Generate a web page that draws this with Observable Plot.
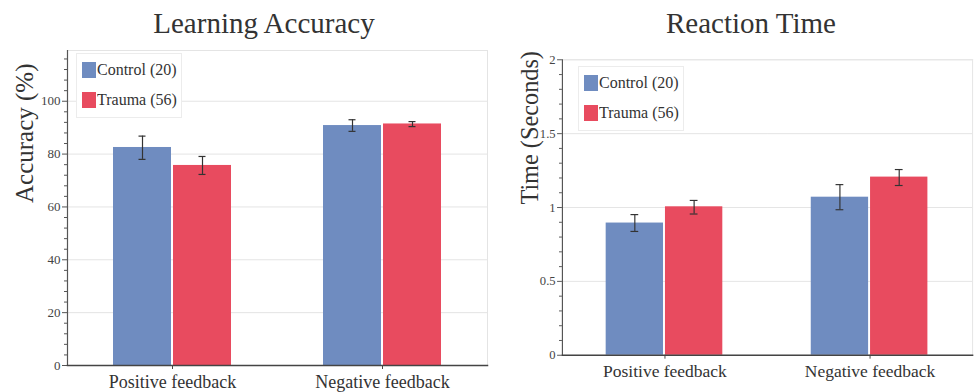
<!DOCTYPE html>
<html>
<head>
<meta charset="utf-8">
<script src="https://cdn.jsdelivr.net/npm/d3@7"></script>
<script src="https://cdn.jsdelivr.net/npm/@observablehq/plot@0.6"></script>
<style>
  html, body { margin: 0; padding: 0; background: #fff; }
  #root { position: relative; width: 976px; height: 392px; overflow: hidden; font-family: "Liberation Serif", serif; }
  #root svg, #root svg text { font-family: "Liberation Serif", serif !important; }
  .title { position: absolute; text-align: center; font-size: 29px; line-height: 29px; color: #333; white-space: nowrap; }
  .panel { position: absolute; top: 0; }
  .lgbox { position: absolute; border: 1px solid #ececec; background: #fff; padding: 1px 4px 2px 5px; }
  .lgbox, .lgbox * { font-family: "Liberation Serif", serif !important; font-size: 16px !important; color: #333 !important; }
  .lgbox .lg-swatch { height: 30px !important; display: flex !important; align-items: center !important; padding: 0 !important; margin: 0 !important; }
  .lgbox .lg-swatch svg { margin-right: 1px !important; }
</style>
</head>
<body>
<div id="root"></div>
<script>
// ---- data ----
const categories = ["Positive feedback", "Negative feedback"];
const groups = ["Control (20)", "Trauma (56)"];
const groupColors = ["#6f8cc0", "#e84b5f"];

// Learning accuracy (%)
const accControl   = [82.5, 90.8];
const accControlLo = [78.0, 88.6];
const accControlHi = [86.8, 93.0];
const accTrauma    = [75.7, 91.4];
const accTraumaLo  = [72.3, 90.4];
const accTraumaHi  = [79.1, 92.3];
const accTicks = [0, 20, 40, 60, 80, 100];
const accMinorTicks = [4, 8, 12, 16, 24, 28, 32, 36, 44, 48, 52, 56, 64, 68, 72, 76, 84, 88, 92, 96, 104, 108, 112, 116];

// Reaction time (seconds)
const rtControl   = [0.895, 1.07];
const rtControlLo = [0.838, 0.985];
const rtControlHi = [0.952, 1.155];
const rtTrauma    = [1.005, 1.206];
const rtTraumaLo  = [0.956, 1.149];
const rtTraumaHi  = [1.048, 1.257];
const rtTicks = [0, 0.5, 1, 1.5, 2];
const rtTickLabels = ["0", "0.5", "1", "1.5", "2"];
const rtMinorTicks = [0.1, 0.2, 0.3, 0.4, 0.6, 0.7, 0.8, 0.9, 1.1, 1.2, 1.3, 1.4, 1.6, 1.7, 1.8, 1.9];

function buildRows(ctrl, ctrlLo, ctrlHi, tr, trLo, trHi) {
  const rows = [];
  categories.forEach((c, i) => {
    rows.push({cat: c, group: groups[0], value: ctrl[i], lo: ctrlLo[i], hi: ctrlHi[i]});
    rows.push({cat: c, group: groups[1], value: tr[i], lo: trLo[i], hi: trHi[i]});
  });
  return rows;
}

function panel({rows, width, marginLeft, marginRight, marginTop, yDomain, ticks, tickLabels, minor, ylabel, ylabelDx, ylabelDy}) {
  return Plot.plot({
    width, height: 392,
    marginLeft, marginRight, marginTop, marginBottom: 27,
    style: {fontFamily: "'Liberation Serif', serif", fontSize: "13px", color: "#444", background: "white"},
    fx: {domain: categories, padding: 0, axis: null, label: null},
    x: {domain: groups, paddingInner: 0.03, paddingOuter: 0.74, axis: null},
    y: {domain: yDomain, axis: null},
    color: {domain: groups, range: groupColors},
    marks: [
      Plot.gridY(ticks, {stroke: "#e4e4e4", strokeOpacity: 1}),
      Plot.frame({facet: "super", anchor: "top", stroke: "#e4e4e4"}),
      Plot.frame({facet: "super", anchor: "right", stroke: "#e4e4e4"}),
      Plot.barY(rows, {fx: "cat", x: "group", y: "value", fill: "group"}),
      Plot.ruleX(rows, {fx: "cat", x: "group", y1: "lo", y2: "hi", stroke: "#333", strokeWidth: 1.2}),
      Plot.tickY(rows, {fx: "cat", x: "group", y: "lo", stroke: "#333", strokeWidth: 1.2, insetLeft: 25.5, insetRight: 25.5}),
      Plot.tickY(rows, {fx: "cat", x: "group", y: "hi", stroke: "#333", strokeWidth: 1.2, insetLeft: 25.5, insetRight: 25.5}),
      Plot.axisY(ticks, {tickSize: 5, tickPadding: 2, stroke: "#555", fill: "#444", fontSize: 13,
        tickFormat: (d) => tickLabels ? tickLabels[ticks.indexOf(d)] : String(d), label: null}),
      Plot.axisY(minor, {tickSize: 3, stroke: "#555", tickFormat: () => "", label: null}),
      Plot.frame({facet: "super", anchor: "left", stroke: "#555", strokeWidth: 1.2}),
      Plot.frame({facet: "super", anchor: "bottom", stroke: "#444", strokeWidth: 1.5}),
      Plot.axisFx({anchor: "bottom", tickSize: 4, tickPadding: 6, stroke: "#444", fill: "#333", fontSize: 18, label: null}),
      Plot.text([ylabel], {facet: "super", frameAnchor: "left", rotate: -90, dx: ylabelDx, dy: ylabelDy, fontSize: 25, fill: "#333"})
    ]
  });
}

const root = document.getElementById("root");

function addTitle(text, left, width) {
  const d = document.createElement("div");
  d.className = "title";
  d.style.left = left + "px";
  d.style.width = width + "px";
  d.style.top = "9px";
  d.textContent = text;
  root.appendChild(d);
}

function addLegend(left, top) {
  const box = document.createElement("div");
  box.className = "lgbox";
  box.style.left = left + "px";
  box.style.top = top + "px";
  const lg = Plot.legend({
    color: {type: "ordinal", domain: groups, range: groupColors},
    columns: 1, swatchWidth: 14, swatchHeight: 16, className: "lg",
    style: {fontFamily: "'Liberation Serif', serif", fontSize: "16px", color: "#333", margin: 0}
  });
  box.appendChild(lg);
  root.appendChild(box);
}

// Left panel: Learning Accuracy
const p1 = panel({
  rows: buildRows(accControl, accControlLo, accControlHi, accTrauma, accTraumaLo, accTraumaHi),
  width: 490, marginLeft: 66, marginRight: 3, marginTop: 50,
  yDomain: [0, 119.2], ticks: accTicks, tickLabels: null, minor: accMinorTicks,
  ylabel: "Accuracy (%)", ylabelDx: -43, ylabelDy: -5
});
const w1 = document.createElement("div"); w1.className = "panel"; w1.style.left = "0px"; w1.appendChild(p1); root.appendChild(w1);

// Right panel: Reaction Time
const p2 = panel({
  rows: buildRows(rtControl, rtControlLo, rtControlHi, rtTrauma, rtTraumaLo, rtTraumaHi),
  width: 500, marginLeft: 74, marginRight: 4, marginTop: 61,
  yDomain: [0, 2], ticks: rtTicks, tickLabels: rtTickLabels, minor: rtMinorTicks,
  ylabel: "Time (Seconds)", ylabelDx: -33, ylabelDy: -3
});
const w2 = document.createElement("div"); w2.className = "panel"; w2.style.left = "490px"; w2.appendChild(p2); root.appendChild(w2);

addTitle("Learning Accuracy", 0, 528);
addTitle("Reaction Time", 490, 522);
addLegend(76, 53);
addLegend(578, 66);
</script>
</body>
</html>
